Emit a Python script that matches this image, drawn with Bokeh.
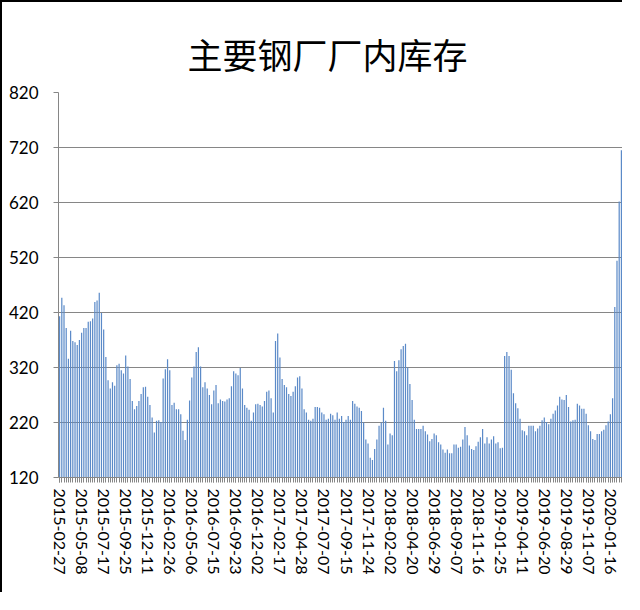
from bokeh.plotting import figure
from bokeh.models import FixedTicker, Range1d, ColumnDataSource
from bokeh.embed import file_html
from bokeh.resources import INLINE

title_text = "主要钢厂厂内库存"

tick_labels = [
    "2015-02-27", "2015-05-08", "2015-07-17", "2015-09-25", "2015-12-11",
    "2016-02-26", "2016-05-06", "2016-07-15", "2016-09-23", "2016-12-02",
    "2017-02-17", "2017-04-28", "2017-07-07", "2017-09-15", "2017-11-24",
    "2018-02-02", "2018-04-20", "2018-06-29", "2018-09-07", "2018-11-16",
    "2019-01-25", "2019-04-11", "2019-06-20", "2019-08-29", "2019-11-07",
    "2020-01-16",
]
label_every = 10

inventory = [
    413, 447, 433, 392, 336, 387, 368, 366, 361, 370,
    383, 392, 392, 403, 404, 409, 439, 442, 456, 419,
    389, 339, 297, 282, 293, 287, 324, 327, 315, 309,
    342, 322, 299, 259, 244, 250, 259, 272, 284, 285,
    267, 252, 229, 202, 223, 224, 221, 300, 317, 335,
    315, 252, 256, 244, 244, 235, 205, 188, 225, 260,
    302, 322, 348, 357, 322, 284, 293, 282, 270, 253,
    278, 288, 255, 262, 259, 258, 262, 264, 286, 313,
    309, 306, 319, 282, 252, 247, 243, 223, 238, 253,
    254, 252, 249, 259, 276, 278, 264, 238, 368, 382,
    338, 299, 288, 284, 272, 268, 276, 286, 302, 304,
    282, 244, 238, 225, 223, 227, 248, 248, 247, 238,
    235, 225, 227, 236, 233, 225, 238, 227, 232, 221,
    225, 232, 225, 259, 254, 249, 247, 241, 220, 189,
    182, 156, 152, 172, 189, 214, 220, 247, 223, 180,
    200, 197, 332, 313, 333, 353, 359, 363, 320, 290,
    261, 225, 208, 208, 208, 214, 204, 198, 186, 190,
    200, 197, 184, 180, 171, 165, 171, 164, 164, 180,
    180, 174, 176, 189, 212, 197, 178, 172, 170, 177,
    185, 193, 208, 182, 193, 182, 189, 195, 182, 184,
    173, 174, 341, 348, 341, 316, 273, 255, 246, 227,
    206, 204, 197, 214, 214, 214, 204, 209, 214, 224,
    229, 221, 217, 227, 236, 242, 251, 267, 262, 261,
    270, 248, 222, 224, 225, 254, 251, 245, 245, 236,
    215, 204, 190, 188, 199, 199, 204, 207, 215, 222,
    235, 264, 430, 514, 622, 715,
]

y_ticks = [120, 220, 320, 420, 520, 620, 720, 820]

n = len(inventory)
source = ColumnDataSource(dict(x=list(range(n)), top=inventory))

p = figure(
    width=622, height=592,
    output_backend="svg", toolbar_location=None,
    x_range=Range1d(-0.5, n - 0.5), y_range=Range1d(y_ticks[0], y_ticks[-1]),
    min_border_left=56, min_border_right=2, min_border_top=90, min_border_bottom=117,
)
p.styles = {"border-left": "2px solid black", "border-top": "2px solid black"}

p.vbar(x="x", top="top", bottom=y_ticks[0], width=0.55, source=source,
       fill_color="#5B8AC8", line_color=None)

p.title.text = title_text
p.title.text_font = "Noto Sans CJK SC"
p.title.text_font_size = "35px"
p.title.text_font_style = "normal"
p.title.text_color = "black"
p.title.align = "left"
p.title.offset = 129
p.title.standoff = 28

grey = "#868686"
p.outline_line_color = None
p.background_fill_color = "white"
p.border_fill_color = "white"

p.xgrid.grid_line_color = None
p.ygrid.grid_line_color = grey
p.ygrid.grid_line_width = 1

ya = p.yaxis[0]
ya.ticker = FixedTicker(ticks=y_ticks)
ya.axis_line_color = grey
ya.major_tick_line_color = grey
ya.major_tick_out = 5
ya.major_tick_in = 0
ya.minor_tick_line_color = None
ya.major_label_text_font = "Lato"
ya.major_label_text_font_size = "17px"
ya.major_label_text_color = "black"
ya.major_label_standoff = 15

xa = p.xaxis[0]
major = [i * label_every for i in range(len(tick_labels))]
xa.ticker = FixedTicker(ticks=major, minor_ticks=list(range(n)))
xa.major_label_overrides = {m: lab for m, lab in zip(major, tick_labels)}
xa.major_label_orientation = "vertical"
xa.axis_line_color = grey
xa.major_tick_line_color = grey
xa.minor_tick_line_color = grey
xa.major_tick_out = 5
xa.major_tick_in = 0
xa.minor_tick_out = 5
xa.minor_tick_in = 0
xa.major_label_text_font = "Lato"
xa.major_label_text_font_size = "16px"
xa.major_label_text_color = "black"
xa.major_label_standoff = 6

open("out.html", "w").write(file_html(p, INLINE))
